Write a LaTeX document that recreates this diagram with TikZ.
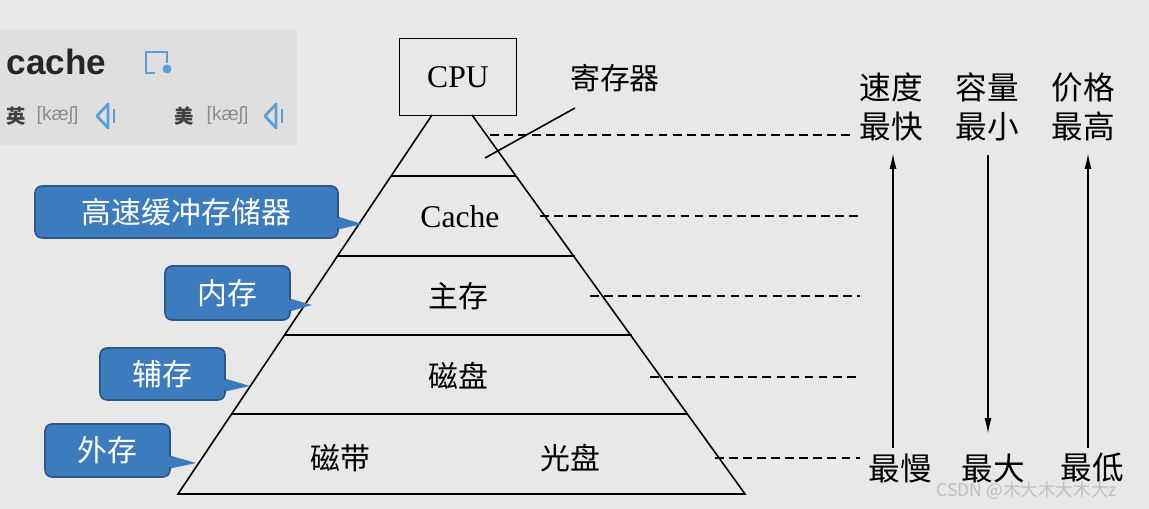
\documentclass[tikz,border=0pt]{standalone}
\usepackage{fontspec}
\setmainfont{Liberation Serif}
\newfontfamily\cjk{Noto Sans CJK SC}
\newfontfamily\sans{Liberation Sans}
\usetikzlibrary{positioning,arrows.meta}
\definecolor{bg}{HTML}{E8E8E8}
\definecolor{callblue}{HTML}{3D7BBF}
\definecolor{iconblue}{HTML}{5AA0D8}
\tikzset{
  lvl/.style={font=\cjk\fontsize{17}{17}\selectfont},
  side/.style={font=\cjk\fontsize{18}{22}\selectfont, align=center},
  call/.style={fill=callblue, draw=callblue!70!black, rounded corners=4pt, text=white,
    font=\cjk\fontsize{17}{17}\selectfont, inner sep=0pt},
  guide/.style={dash pattern=on 5pt off 3pt, thick},
  up/.style={-{Latex[length=9pt,width=4pt]}},
}
\begin{document}
\begin{tikzpicture}[x=0.02cm,y=-0.02cm, line width=0.9pt]
  \fill[bg] (0,0) rectangle (1149,509);
  \useasboundingbox (0,0) rectangle (1149,509);
  % dictionary panel
  \fill[black!4!bg] (0,30) rectangle (297,145);
  \node[anchor=west, font=\sans\bfseries\fontsize{20}{20}\selectfont, text=black!85] (word) at (0,62) {cache};
  \draw[iconblue, line width=1.4pt] (155,73) -- (146,73) -- (146,52) -- (167,52) -- (167,63);
  \fill[iconblue] (167,69) circle (4.5);
  \node[anchor=west, font=\cjk\bfseries\fontsize{11}{11}\selectfont, text=black!75] (en) at (0,116) {英};
  \node[anchor=west, font=\sans\fontsize{11}{11}\selectfont, text=black!45] (enp) at (30,116) {[kæʃ]};
  \node[anchor=west, font=\cjk\bfseries\fontsize{11}{11}\selectfont, text=black!75] (us) at (168,116) {美};
  \node[anchor=west, font=\sans\fontsize{11}{11}\selectfont, text=black!45] (usp) at (200,116) {[kæʃ]};
  \foreach \sx in {0,168}{
    \draw[iconblue, line width=1.6pt, line join=round] (\sx+97,116) -- (\sx+108,104) -- (\sx+108,128) -- cycle;
    \draw[iconblue, line width=1.6pt] (\sx+114,109) -- (\sx+114,123);
  }

  % pyramid
  \node[draw, minimum width=2.34cm, minimum height=1.54cm, font=\fontsize{18}{18}\selectfont] (cpu) at (458,77) {CPU};
  \draw (432,115) -- (178,494) -- (745,494) -- (472,115);
  \foreach \ya/\xa/\xb in {176/391/516, 256/338/575, 335/285/632, 414/232/687}
    \draw (\xa,\ya) -- (\xb,\ya);
  \node[lvl] (reg) at (615,78) {寄存器};
  \coordinate (regend) at (485,158);
  \draw (regend) -- (575,108);
  \node[font=\fontsize{18}{18}\selectfont] (cache) at (460,217) {Cache};
  \node[lvl] (main) at (458,296) {主存};
  \node[lvl] (disk) at (458,376) {磁盘};
  \node[lvl] (tape) at (340,458) {磁带};
  \node[lvl] (cd) at (570,458) {光盘};

  % dashed guides
  \foreach \y/\xa/\xb in {135/490/852, 216/540/860, 296/590/860, 377/650/860, 458/715/860}
    \draw[guide] (\xa,\y) -- (\xb,\y);

  % right labels
  \node[side] (speed) at (891,107) {速度\\最快};
  \node[side] (size) at (987,107) {容量\\最小};
  \node[side] (price) at (1083,107) {价格\\最高};
  \node[side] (slow) at (900,468) {最慢};
  \node[side] (big) at (993,468) {最大};
  \node[side] (low) at (1092,468) {最低};
  \draw[up] (893,448) -- (893,153);
  \draw[up] (988,155) -- (988,434);
  \draw[up] (1088,448) -- (1088,153);

  % callouts
  \foreach \nm/\txt/\xa/\ya/\xb/\yb/\px/\py in {
      c1/高速缓冲存储器/35/186/338/238/362/224,
      c2/内存/165/266/290/320/312/305,
      c3/辅存/100/348/225/400/250/386,
      c4/外存/45/424/170/477/196/463}{
    \fill[callblue] (\xb-2,\yb-22) -- (\px,\py) -- (\xb-2,\yb-8) -- cycle;
    \node[call, minimum width=(\xb-\xa)*0.02cm, minimum height=(\yb-\ya)*0.02cm]
      (\nm) at ({(\xa+\xb)/2},{(\ya+\yb)/2}) {\txt};
    \fill[callblue] (\xb-4,\yb-21) -- (\px-3,\py) -- (\xb-4,\yb-9) -- cycle;
  }

  % watermark
  \node[anchor=west, font=\cjk\fontsize{10}{10}\selectfont, text=white!75!black] (mark) at (930,491) {CSDN @木大木大木大z};
\end{tikzpicture}
\end{document}
